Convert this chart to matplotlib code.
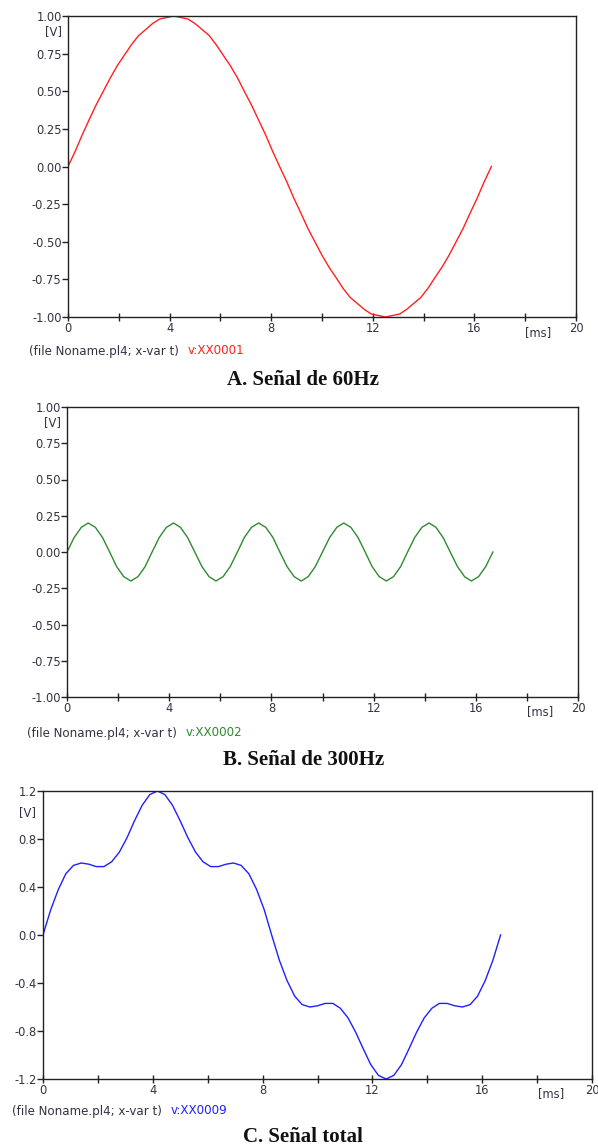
import matplotlib
matplotlib.use("Agg")
import matplotlib.pyplot as plt
from matplotlib.ticker import MultipleLocator

# ---- datos (ATP / PlotXY) ----
t_ms = [0.00, 0.28, 0.56, 0.83, 1.11, 1.39, 1.67, 1.94, 2.22, 2.50,
        2.78, 3.06, 3.33, 3.61, 3.89, 4.17, 4.44, 4.72, 5.00, 5.28,
        5.56, 5.83, 6.11, 6.39, 6.67, 6.94, 7.22, 7.50, 7.78, 8.06,
        8.33, 8.61, 8.89, 9.17, 9.44, 9.72, 10.00, 10.28, 10.56, 10.83,
        11.11, 11.39, 11.67, 11.94, 12.22, 12.50, 12.78, 13.06, 13.33, 13.61,
        13.89, 14.17, 14.44, 14.72, 15.00, 15.28, 15.56, 15.83, 16.11, 16.39,
        16.67]

v_60hz = [0.00, 0.10, 0.21, 0.31, 0.41, 0.50, 0.59, 0.67, 0.74, 0.81,
          0.87, 0.91, 0.95, 0.98, 0.99, 1.00, 0.99, 0.98, 0.95, 0.91,
          0.87, 0.81, 0.74, 0.67, 0.59, 0.50, 0.41, 0.31, 0.21, 0.10,
          0.00, -0.10, -0.21, -0.31, -0.41, -0.50, -0.59, -0.67, -0.74, -0.81,
          -0.87, -0.91, -0.95, -0.98, -0.99, -1.00, -0.99, -0.98, -0.95, -0.91,
          -0.87, -0.81, -0.74, -0.67, -0.59, -0.50, -0.41, -0.31, -0.21, -0.10,
          0.00]

v_300hz = [0.00, 0.10, 0.17, 0.20, 0.17, 0.10, 0.00, -0.10, -0.17, -0.20, -0.17, -0.10,
           0.00, 0.10, 0.17, 0.20, 0.17, 0.10, 0.00, -0.10, -0.17, -0.20, -0.17, -0.10,
           0.00, 0.10, 0.17, 0.20, 0.17, 0.10, 0.00, -0.10, -0.17, -0.20, -0.17, -0.10,
           0.00, 0.10, 0.17, 0.20, 0.17, 0.10, 0.00, -0.10, -0.17, -0.20, -0.17, -0.10,
           0.00, 0.10, 0.17, 0.20, 0.17, 0.10, 0.00, -0.10, -0.17, -0.20, -0.17, -0.10,
           0.00]

v_total = [0.00, 0.21, 0.38, 0.51, 0.58, 0.60, 0.59, 0.57, 0.57, 0.61,
           0.69, 0.81, 0.95, 1.08, 1.17, 1.20, 1.17, 1.08, 0.95, 0.81,
           0.69, 0.61, 0.57, 0.57, 0.59, 0.60, 0.58, 0.51, 0.38, 0.21,
           0.00, -0.21, -0.38, -0.51, -0.58, -0.60, -0.59, -0.57, -0.57, -0.61,
           -0.69, -0.81, -0.95, -1.08, -1.17, -1.20, -1.17, -1.08, -0.95, -0.81,
           -0.69, -0.61, -0.57, -0.57, -0.59, -0.60, -0.58, -0.51, -0.38, -0.21,
           0.00]

var_names = ["v:XX0001", "v:XX0002", "v:XX0009"]
titles = ["A. Señal de 60Hz", "B. Señal de 300Hz", "C. Señal total"]
x_ticks = [0, 4, 8, 12, 16, 20]

W, H = 598, 1148
TXT = "#333344"
SANS = ["DejaVu Sans"]
SERIF = ["Liberation Serif", "DejaVu Serif"]
FS = 8.3


def px_rect(l, t, r, b):
    return [l / W, 1 - b / H, (r - l) / W, (b - t) / H]


def panel(fig, rect, y, col, ylim, ystep, yfmt, vlabel_y):
    ax = fig.add_axes(rect)
    ax.plot(t_ms, y, color=col, lw=1.0)
    ax.set_xlim(0, 20)
    ax.set_ylim(*ylim)
    ax.xaxis.set_minor_locator(MultipleLocator(2))
    ax.yaxis.set_major_locator(MultipleLocator(ystep))
    ticks = [v for v in ax.get_yticks() if ylim[0] - 1e-9 <= v <= ylim[1] + 1e-9]
    ax.set_yticks(ticks)
    ax.set_yticklabels([yfmt.format(v + 0.0) for v in ticks])
    ax.set_ylim(*ylim)
    ax.set_xticks(x_ticks)
    ax.set_xticklabels([str(v) for v in x_ticks])
    for s in ax.spines.values():
        s.set_linewidth(1.0)
        s.set_color("#222222")
    ax.tick_params(axis="y", direction="out", length=4, width=1.0, pad=0.5,
                   labelsize=FS, labelcolor=TXT, color="#222222")
    ax.tick_params(axis="x", which="both", direction="inout", length=6, width=1.0,
                   pad=0.5, labelsize=FS, labelcolor=TXT, color="#222222")
    for lab in ax.get_xticklabels() + ax.get_yticklabels():
        lab.set_family(SANS)
    ax.text(-0.012, vlabel_y, "[V]", transform=ax.get_yaxis_transform(),
            ha="right", va="center", fontsize=FS, color=TXT, family=SANS)
    ax.text(18.5, -0.05, "[ms]", transform=ax.get_xaxis_transform(),
            ha="center", va="center", fontsize=FS, color=TXT, family=SANS)
    return ax


def caption(fig, x, y, name, col, title, ty):
    t1 = fig.text(x / W, 1 - y / H, "(file Noname.pl4; x-var t)", fontsize=8.6,
                  color=TXT, family=SANS, va="center", ha="left")
    fig.canvas.draw()
    plt.annotate(name, xy=(1, 0.5), xycoords=t1, xytext=(6.5, 0),
                 textcoords="offset points", va="center", ha="left",
                 fontsize=8.6, color=col, family=SANS)
    fig.text(0.507, 1 - ty / H, title, fontsize=15, fontweight="bold",
             family=SERIF, ha="center", va="center", color="#111111")


fig = plt.figure(figsize=(W / 100, H / 100), dpi=100)

panel(fig, px_rect(68, 16, 576, 317), v_60hz, "#ff2020", (-1, 1), 0.25, "{:.2f}", 0.895)
caption(fig, 29, 351, var_names[0], "#ff2020", titles[0], 380)

panel(fig, px_rect(67, 407, 578, 697), v_300hz, "#2e8b2e", (-1, 1), 0.25, "{:.2f}", 0.895)
caption(fig, 27, 733, var_names[1], "#2e8b2e", titles[1], 760)

panel(fig, px_rect(43, 791, 592, 1079), v_total, "#2020ff", (-1.2, 1.2), 0.4, "{:.1f}", 1.02)
caption(fig, 12, 1111, var_names[2], "#2020ff", titles[2], 1137)

fig.savefig("out.png", dpi=100)
